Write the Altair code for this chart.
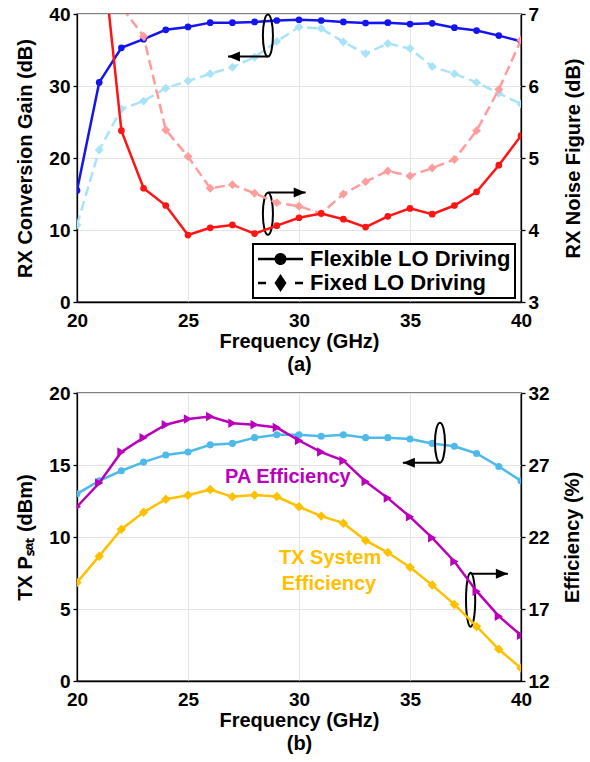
import altair as alt
import pandas as pd

# ---------------- data ----------------
freq = list(range(20, 41))

# (a) RX
gain_flex = [15.5, 30.5, 35.3, 36.5, 37.8, 38.2, 38.8, 38.8, 38.9, 39.1, 39.2,
             39.1, 38.9, 38.75, 38.8, 38.6, 38.7, 38.1, 37.7, 37.0, 36.2]
gain_fixed = [10.7, 21.1, 26.8, 27.9, 29.7, 30.7, 31.7, 32.6, 34.0, 36.2, 38.2,
              38.0, 36.1, 34.5, 35.9, 35.2, 32.7, 31.7, 30.5, 29.0, 27.5]
nf_flex = [9.5, 8.3, 5.38, 4.58, 4.34, 3.93, 4.03, 4.07, 3.95, 4.06, 4.17,
           4.23, 4.15, 4.04, 4.19, 4.30, 4.22, 4.34, 4.53, 4.90, 5.31]
nf_fixed = [8.4, 7.7, 7.1, 6.69, 5.39, 5.02, 4.58, 4.63, 4.51, 4.38, 4.33,
            4.23, 4.50, 4.67, 4.82, 4.75, 4.86, 4.98, 5.38, 5.95, 6.64]

# (b) TX
psat = [13.0, 13.9, 14.6, 15.2, 15.7, 15.9, 16.4, 16.5, 16.9, 17.1, 17.1,
        17.0, 17.1, 16.9, 16.9, 16.8, 16.5, 16.3, 15.8, 14.9, 13.9]
pa_eff = [24.1, 25.75, 27.9, 28.9, 29.8, 30.2, 30.36, 29.9, 29.8, 29.6, 28.7,
          27.9, 27.3, 25.85, 24.7, 23.4, 21.94, 20.3, 18.24, 16.5, 15.17]
tx_eff = [18.84, 20.67, 22.54, 23.72, 24.62, 24.9, 25.3, 24.79, 24.92, 24.81, 24.1,
          23.45, 22.96, 21.76, 20.92, 19.9, 18.66, 17.32, 15.79, 14.2, 12.9]

legend_names = ["Flexible LO Driving", "Fixed LO Driving"]

# annotation anchors (data coordinates)
a_ell_x = [28.6, 28.6]
a_ell_y = [37.0, 12.25]
a_arr_x1 = [28.6, 28.6]
a_arr_x2 = [26.8, 30.3]
a_arr_y = [34.1, 15.2]

b_ell_x = [36.35, 37.73]
b_ell_y = [16.55, 5.65]
b_arr_x1 = [36.35, 37.73]
b_arr_x2 = [34.68, 39.41]
b_arr_y = [15.16, 7.45]

b_text = ["PA Efficiency", "TX System", "Efficiency"]
b_text_x = [29.5, 31.4, 31.35]
b_text_y = [14.2, 8.56, 6.76]

# ---------------- style ----------------
FONT = "Liberation Sans"
W, H = 444, 288
BLUE, LBLUE, RED, PINK = "#1414F0", "#A9E3F8", "#FF1414", "#FF9C9C"
SKY, PURPLE, ORANGE = "#4DBAEA", "#BB00BB", "#FFC000"

# legend glyphs (filled shapes only): symbol box 20px (10px per unit); glyph spans -10px..35px
P_FLEX = ("M-1,-0.13H3.5V0.13H-1Z "
          "M0.65,0A0.6,0.6 0 1,1 1.85,0A0.6,0.6 0 1,1 0.65,0Z")
P_FIX = ("M-1,-0.13H-0.2V0.13H-1Z M2.7,-0.13H3.5V0.13H2.7Z "
         "M1.25,-0.9L1.85,0L1.25,0.9L0.65,0Z")
HEAD_L = "M0,0L1,-0.42L1,0.42Z"
HEAD_R = "M0,0L-1,-0.42L-1,0.42Z"


def ell_path(r):
    return f"M0,-1A{r},1 0 1,1 0,1A{r},1 0 1,1 0,-1Z"


def X(title):
    return alt.X("f:Q", scale=alt.Scale(domain=[20, 40], nice=False, zero=False),
                 axis=alt.Axis(values=[20, 25, 30, 35, 40], title=title, grid=True,
                               ticks=False, tickSize=0, labelPadding=9, titlePadding=1,
                               titleLineHeight=23, labelFlush=False))


def YL(field, domain, vals, title, tpad=10):
    return alt.Y(f"{field}:Q", scale=alt.Scale(domain=domain, nice=False, zero=False),
                 axis=alt.Axis(orient="left", values=vals, title=title, grid=True,
                               tickSize=4, labelPadding=3, titlePadding=tpad))


def YR(field, domain, vals, title, tpad=14):
    return alt.Y(f"{field}:Q", scale=alt.Scale(domain=domain, nice=False, zero=False),
                 axis=alt.Axis(orient="right", values=vals, title=title, grid=False,
                               tickSize=4, labelPadding=3, titlePadding=tpad,
                               titleAngle=270, titleBaseline="top"))


def series(df, field, xt, yenc_fn, color, shape, size, dash=None, width=2.5):
    base = alt.Chart(df)
    lkw = dict(color=color, strokeWidth=width, clip=True)
    if dash:
        lkw["strokeDash"] = dash
    line = base.mark_line(**lkw).encode(x=X(xt), y=yenc_fn(field))
    pts = base.mark_point(shape=shape, filled=True, color=color, size=size,
                          opacity=1, clip=True).encode(x=X(xt), y=yenc_fn(field))
    return [line, pts]


def annotations(xt, yenc_fn, ex, ey, ax1, ax2, ay, ell_specs):
    layers = []
    for i in range(len(ex)):
        r, sz = ell_specs[i]
        d = pd.DataFrame({"f": [ex[i]], "ay": [ey[i]]})
        layers.append(alt.Chart(d).mark_point(shape=ell_path(r), size=sz, filled=False,
                                              color="black", strokeWidth=2, opacity=1)
                      .encode(x=X(xt), y=yenc_fn("ay")))
        d2 = pd.DataFrame({"f": [ax1[i]], "f2": [ax2[i]], "ay": [ay[i]]})
        layers.append(alt.Chart(d2).mark_rule(color="black", strokeWidth=2)
                      .encode(x=X(xt), x2="f2:Q", y=yenc_fn("ay")))
        d3 = pd.DataFrame({"f": [ax2[i]], "ay": [ay[i]]})
        head = HEAD_L if ax2[i] < ax1[i] else HEAD_R
        layers.append(alt.Chart(d3).mark_point(shape=head, size=576, filled=True,
                                               color="black", opacity=1)
                      .encode(x=X(xt), y=yenc_fn("ay")))
    return layers


# ---------------- panel (a) ----------------
XT_A = ["Frequency (GHz)", "(a)"]
dfa = pd.DataFrame({"f": freq, "gf": gain_flex, "gx": gain_fixed,
                    "nf": nf_flex, "nx": nf_fixed})


def yl_a(field):
    return YL(field, [0, 40], [0, 10, 20, 30, 40], "RX Conversion Gain (dB)", 13)


def yr_a(field):
    return YR(field, [3, 7], [3, 4, 5, 6, 7], "RX Noise Figure (dB)", 25)


leg_df = pd.DataFrame({"f": freq * 2, "gl": gain_flex + gain_fixed,
                       "mode": [legend_names[0]] * len(freq) + [legend_names[1]] * len(freq)})
legend_layer = alt.Chart(leg_df).mark_point(filled=True, fill="black",
                                            strokeWidth=0, opacity=0).encode(
    x=X(XT_A), y=yl_a("gl"),
    shape=alt.Shape("mode:N", scale=alt.Scale(domain=legend_names, range=[P_FLEX, P_FIX]),
                    legend=alt.Legend(orient="none", legendX=176, legendY=230, title=None,
                                      labelFont=FONT, labelFontSize=22, labelFontWeight="bold",
                                      labelColor="black", labelLimit=400,
                                      symbolSize=400, symbolStrokeWidth=0,
                                      symbolFillColor="black",
                                      symbolOpacity=1, strokeColor="black", fillColor="white",
                                      padding=4, rowPadding=2, labelOffset=31)))

left_a = alt.layer(
    *series(dfa, "gx", XT_A, yl_a, LBLUE, "diamond", 80, dash=[10, 5]),
    *series(dfa, "gf", XT_A, yl_a, BLUE, "circle", 45),
    *annotations(XT_A, yl_a, a_ell_x, a_ell_y, a_arr_x1, a_arr_x2, a_arr_y,
                 [(0.24, 1764), (0.24, 1764)]),
    legend_layer,
)
right_a = alt.layer(
    *series(dfa, "nx", XT_A, yr_a, PINK, "diamond", 80, dash=[10, 5]),
    *series(dfa, "nf", XT_A, yr_a, RED, "circle", 45),
)
panel_a = alt.layer(left_a, right_a).resolve_scale(y="independent").properties(width=W, height=H)

# ---------------- panel (b) ----------------
XT_B = ["Frequency (GHz)", "(b)"]
dfb = pd.DataFrame({"f": freq, "ps": psat, "pa": pa_eff, "tx": tx_eff})


def yl_b(field):
    return YL(field, [0, 20], [0, 5, 10, 15, 20], "TX Pₛₐₜ (dBm)", 13)


def yr_b(field):
    return YR(field, [12, 32], [12, 17, 22, 27, 32], "Efficiency (%)", 13)


txt_df = pd.DataFrame({"f": b_text_x, "ty": b_text_y, "t": b_text,
                       "c": [PURPLE, ORANGE, ORANGE]})
text_layer = alt.Chart(txt_df).mark_text(font=FONT, fontSize=20, fontWeight="bold",
                                         align="center", baseline="middle").encode(
    x=X(XT_B), y=yl_b("ty"), text="t:N", color=alt.Color("c:N", scale=None))

left_b = alt.layer(
    *series(dfb, "ps", XT_B, yl_b, SKY, "circle", 50),
    *annotations(XT_B, yl_b, b_ell_x, b_ell_y, b_arr_x1, b_arr_x2, b_arr_y,
                 [(0.25, 1600), (0.17, 2916)]),
    text_layer,
)
right_b = alt.layer(
    *series(dfb, "tx", XT_B, yr_b, ORANGE, "diamond", 90),
    *series(dfb, "pa", XT_B, yr_b, PURPLE, "triangle-right", 90),
)
panel_b = alt.layer(left_b, right_b).resolve_scale(y="independent").properties(width=W, height=H)

chart = alt.vconcat(panel_a, panel_b, spacing=8).resolve_scale(
    shape="independent", x="independent", y="independent"
).properties(
    padding={"left": 15, "top": 4, "right": 0, "bottom": 0}
).configure_axis(
    labelFont=FONT, labelFontSize=19, labelFontWeight="bold", labelColor="black",
    titleFont=FONT, titleFontSize=20, titleFontWeight="bold", titleColor="black",
    domainColor="black", domainWidth=1.3, tickColor="black", tickWidth=1.3,
    gridColor="#E4E4E4", gridWidth=1,
).configure_view(stroke="black", strokeWidth=1.3).configure_legend(strokeWidth=2)

chart.save("out.html", embed_options={"renderer": "svg", "actions": False})
